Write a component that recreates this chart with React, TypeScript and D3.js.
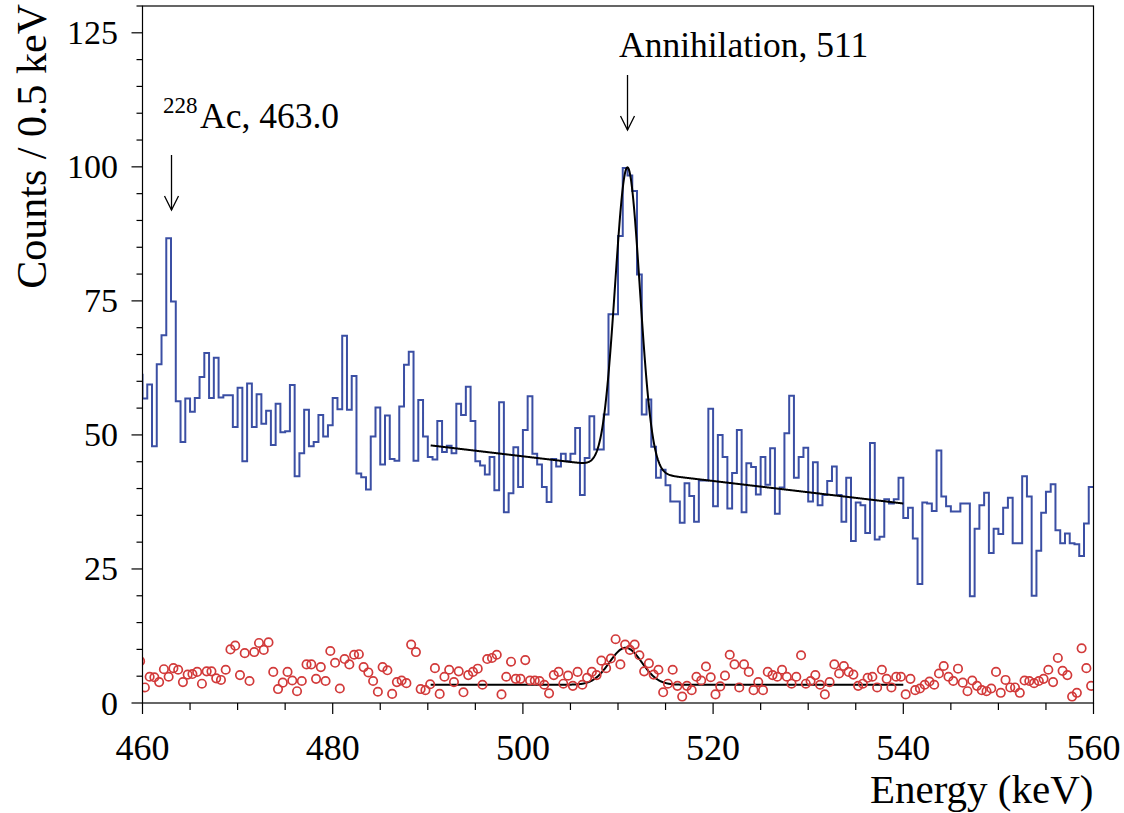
import React from "react";
import * as d3 from "d3";

// ---------- data ----------
const X_DOMAIN = [460, 560];
const Y_DOMAIN = [0, 130];
const BIN_WIDTH = 0.5;
const FIRST_EDGE = 459.5; // first stored bin starts just left of the axis range

// blue histogram: counts per 0.5 keV bin, bins from 459.5 keV
const blueCounts = [61.2,
  56.8, 59.4, 47.9, 63.2, 68.6, 86.7, 74.9, 56.3, 48.7, 56.8,
  54.3, 56.9, 60.8, 65.3, 56.9, 64.4, 57.0, 57.4, 57.4, 51.5,
  58.8, 45.1, 59.6, 51.5, 57.6, 52.1, 54.5, 48.1, 55.8, 50.5,
  50.7, 59.3, 42.3, 46.6, 54.7, 47.9, 48.7, 53.7, 49.7, 51.8,
  56.9, 54.8, 68.5, 54.7, 61.0, 42.8, 42.1, 39.8, 49.7, 55.1,
  44.5, 53.6, 45.5, 45.2, 55.3, 63.1, 65.5, 45.2, 56.5, 49.7,
  45.9, 45.4, 52.6, 46.8, 48.0, 46.6, 55.8, 53.7, 59.0, 52.6,
  45.1, 44.3, 42.6, 45.9, 39.7, 56.1, 35.6, 39.1, 47.7, 40.3,
  50.9, 57.2, 46.5, 44.5, 40.3, 37.5, 45.5, 44.1, 46.5, 45.1,
  46.5, 51.3, 38.8, 45.7, 53.5, 47.3, 47.3, 53.8, 72.5, 72.5,
  87.1, 99.8, 98.4, 95.5, 79.9, 53.8, 56.6, 47.8, 42.0, 43.5,
  40.6, 37.6, 37.6, 33.6, 41.0, 38.6, 33.8, 41.5, 41.5, 54.9,
  36.7, 50.0, 45.9, 36.3, 42.9, 50.9, 35.6, 44.7, 44.0, 38.9,
  45.9, 40.7, 47.5, 35.3, 40.2, 50.3, 57.3, 42.0, 45.9, 47.6,
  37.6, 44.9, 36.9, 38.8, 41.4, 44.1, 38.8, 33.8, 42.0, 30.2,
  37.4, 36.9, 31.7, 48.5, 30.5, 31.0, 38.0, 37.2, 38.0, 42.0,
  34.5, 36.4, 30.7, 22.2, 37.4, 37.2, 35.8, 47.1, 38.5, 36.7,
  35.7, 35.7, 37.2, 37.2, 19.9, 32.5, 36.9, 39.2, 28.0, 32.5,
  31.5, 36.4, 38.3, 29.8, 29.8, 42.3, 38.5, 20.0, 28.4, 35.5,
  39.4, 40.8, 32.2, 29.8, 31.6, 29.8, 29.6, 27.4, 33.5, 40.3];

// red points: counts at bin centres, same binning
const redCounts = [7.8,
  2.9, 4.9, 4.8, 3.9, 6.3, 4.9, 6.5, 6.2, 3.9, 5.3,
  5.4, 5.8, 3.6, 5.9, 5.9, 4.6, 4.3, 6.2, 10.0, 10.7,
  5.2, 9.3, 4.1, 9.5, 11.2, 9.9, 11.3, 5.8, 2.6, 3.8,
  5.8, 4.2, 2.2, 4.1, 7.2, 7.2, 4.5, 6.7, 4.1, 9.7,
  7.5, 2.7, 8.2, 7.2, 9.0, 9.1, 6.7, 5.7, 4.1, 2.1,
  6.7, 6.1, 1.7, 3.9, 4.2, 3.7, 10.9, 9.5, 2.6, 2.4,
  3.5, 6.5, 1.7, 4.9, 6.2, 3.9, 5.9, 2.0, 5.2, 5.8,
  6.4, 3.4, 8.2, 8.4, 9.0, 1.6, 4.9, 7.7, 4.5, 4.5,
  8.0, 4.2, 4.2, 4.1, 3.4, 1.8, 5.2, 5.8, 3.6, 5.1,
  3.2, 5.8, 3.4, 4.7, 5.8, 5.2, 7.9, 6.5, 8.3, 11.9,
  7.2, 10.9, 9.9, 10.9, 8.9, 5.9, 7.4, 5.3, 6.2, 2.0,
  3.6, 6.2, 3.2, 1.2, 3.2, 2.4, 4.9, 4.2, 6.8, 4.8,
  1.6, 3.1, 5.1, 9.0, 7.2, 2.9, 7.2, 5.8, 2.4, 3.9,
  2.4, 5.8, 5.2, 4.9, 6.2, 4.9, 3.6, 4.9, 8.9, 3.6,
  4.1, 5.2, 3.4, 1.6, 3.9, 7.2, 5.5, 6.9, 5.8, 5.3,
  3.2, 3.6, 4.7, 4.9, 2.9, 6.2, 4.5, 2.9, 4.9, 4.9,
  1.6, 4.5, 2.4, 2.7, 3.4, 4.0, 3.4, 5.5, 6.9, 4.9,
  4.1, 6.4, 3.8, 2.2, 4.2, 3.2, 2.4, 2.2, 2.7, 5.8,
  1.9, 4.3, 2.9, 2.9, 1.9, 4.2, 4.1, 3.7, 4.1, 4.5,
  6.2, 3.9, 8.4, 6.0, 5.2, 1.2, 1.9, 10.2, 6.5, 3.2];

// fit model parameters
const blueFit = { from: 490.3, to: 540, mean: 511.0, sigma: 1.3, amp: 56.4, base: 43.3, slope: -0.21, step: 0.4 };
const redFit = { from: 490.3, to: 540, mean: 510.8, sigma: 1.7, amp: 6.9, base: 3.4 };

const xMajorTicks = [460, 480, 500, 520, 540, 560];
const yMajorTicks = [0, 25, 50, 75, 100, 125];
const X_MINOR_STEP = 5;
const Y_MINOR_STEP = 5;

// ---------- layout ----------
const W = 1124, H = 813;
const L = 142.5, R = 1093.5, T = 6, B = 703;
const FONT = "'Liberation Serif', 'Times New Roman', serif";
const BLUE = "#3b4fa4";
const RED = "#d23a3a";

function erfc(x: number) {
  const z = Math.abs(x);
  const t = 1 / (1 + 0.3275911 * z);
  const y = t * (0.254829592 + t * (-0.284496736 + t * (1.421413741 + t * (-1.453152027 + t * 1.061405429)))) * Math.exp(-z * z);
  return x >= 0 ? y : 2 - y;
}

export default function App() {
  const x = d3.scaleLinear().domain(X_DOMAIN).range([L, R]);
  const y = d3.scaleLinear().domain(Y_DOMAIN).range([B, T]);

  const histPts: [number, number][] = blueCounts.map((v, i) => [FIRST_EDGE + i * BIN_WIDTH, v]);
  histPts.push([FIRST_EDGE + blueCounts.length * BIN_WIDTH, blueCounts[blueCounts.length - 1]]);
  const stepLine = d3.line<[number, number]>().x((d) => x(d[0])).y((d) => y(d[1])).curve(d3.curveStepAfter);

  const blueModel = (e: number) => {
    const f = blueFit;
    const g = Math.exp(-((e - f.mean) ** 2) / (2 * f.sigma * f.sigma));
    return f.base + f.slope * (e - f.mean) + f.step * 0.5 * erfc((e - f.mean) / (Math.SQRT2 * f.sigma)) + f.amp * g;
  };
  const redModel = (e: number) => {
    const f = redFit;
    return f.base + f.amp * Math.exp(-((e - f.mean) ** 2) / (2 * f.sigma * f.sigma));
  };
  const curve = d3.line<number>().curve(d3.curveLinear);
  const sample = (from: number, to: number, fn: (e: number) => number) =>
    curve.x((e) => x(e)).y((e) => y(fn(e)))(d3.range(from, to + 1e-9, 0.05).concat([to]));

  const xMinor = d3.range(X_DOMAIN[0], X_DOMAIN[1] + 0.01, X_MINOR_STEP);
  const yMinor = d3.range(Y_DOMAIN[0], 125 + 0.01, Y_MINOR_STEP).concat([130]);

  const arrow = (cx: number, y0: number, y1: number) => (
    <g stroke="#000" strokeWidth={1.3} fill="none">
      <line x1={cx} y1={y0} x2={cx} y2={y1} />
      <polyline points={`${cx - 7},${y1 - 14} ${cx},${y1} ${cx + 7},${y1 - 14}`} />
    </g>
  );

  return (
    <svg width={W} height={H} style={{ position: "absolute", left: 0, top: 0, background: "#fff" }} fontFamily={FONT}>
      <defs>
        <clipPath id="frame">
          <rect x={L} y={T} width={R - L} height={B - T} />
        </clipPath>
      </defs>
      <rect width={W} height={H} fill="#fff" />

      <g clipPath="url(#frame)">
        <path d={stepLine(histPts) || ""} fill="none" stroke={BLUE} strokeWidth={2} />
        <path d={sample(blueFit.from, blueFit.to, blueModel) || ""} fill="none" stroke="#000" strokeWidth={2} />
        <path d={sample(redFit.from, redFit.to, redModel) || ""} fill="none" stroke="#000" strokeWidth={2} />
        {redCounts.map((v, i) => (
          <circle key={i} cx={x(FIRST_EDGE + (i + 0.5) * BIN_WIDTH)} cy={y(v)} r={4.2} fill="none" stroke={RED} strokeWidth={1.7} />
        ))}
      </g>

      {/* frame */}
      <rect x={L} y={T} width={R - L} height={B - T} fill="none" stroke="#000" strokeWidth={1.2} />

      {/* ticks */}
      <g stroke="#000" strokeWidth={1.2}>
        {xMinor.map((t) => (
          <line key={"xm" + t} x1={x(t)} x2={x(t)} y1={B} y2={B + (xMajorTicks.includes(t) ? 11 : 7)} />
        ))}
        {yMinor.map((t) => (
          <line key={"ym" + t} x1={L} x2={L - (yMajorTicks.includes(t) ? 11 : 6)} y1={y(t)} y2={y(t)} />
        ))}
      </g>
      <g fill="#000">
        {xMajorTicks.map((t) => (
          <text key={"xl" + t} x={x(t)} y={760} textAnchor="middle" fontSize={36}>{t}</text>
        ))}
        {yMajorTicks.map((t) => (
          <text key={"yl" + t} x={118} y={y(t) + 11.5} textAnchor="end" fontSize={34}>{t}</text>
        ))}
      </g>

      {/* axis titles */}
      <text x={R} y={803} textAnchor="end" fontSize={41}>Energy (keV)</text>
      <text transform={`translate(46,4) rotate(-90)`} textAnchor="end" fontSize={42}>Counts / 0.5 keV</text>

      {/* annotations */}
      <text x={619} y={57} fontSize={35.5}>Annihilation, 511</text>
      {arrow(x(511), 75, 130)}
      <text x={163} y={113} fontSize={23}>228</text>
      <text x={200} y={128} fontSize={35.5}>Ac, 463.0</text>
      {arrow(x(463.05), 155, 210)}
    </svg>
  );
}
